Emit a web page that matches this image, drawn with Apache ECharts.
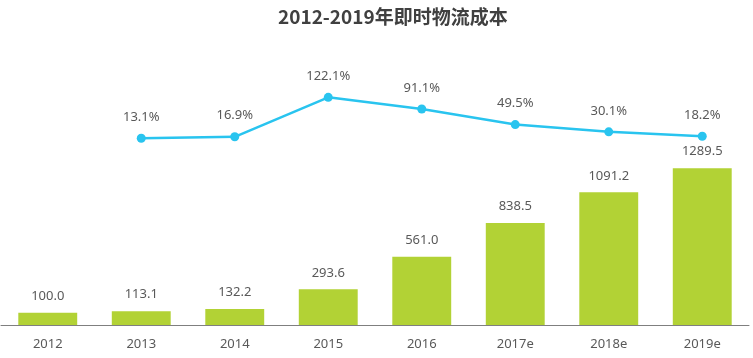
<!DOCTYPE html>
<html><head><meta charset="utf-8">
<script src="https://cdn.jsdelivr.net/npm/echarts@6/dist/echarts.min.js"></script>
<style>html,body{margin:0;padding:0;background:#fff}#c{width:753px;height:358px}</style>
</head><body><div id="c"></div>
<script>
const categories = ['2012','2013','2014','2015','2016','2017e','2018e','2019e'];
const costValues = [100.0, 113.1, 132.2, 293.6, 561.0, 838.5, 1091.2, 1289.5];
const growthValues = [null, 13.1, 16.9, 122.1, 91.1, 49.5, 30.1, 18.2];
const titleText = '2012-2019年即时物流成本';

const chart = echarts.init(document.getElementById('c'));
const font = '"Noto Sans", "Noto Sans CJK SC", sans-serif';
chart.setOption({
  animation: false,
  title: { text: titleText, left: 273, top: 2,
    textStyle: { fontSize: 19, fontWeight: 'bold', color: '#404040', fontFamily: '"Noto Sans CJK SC", sans-serif' } },
  grid: { left: 1, right: 4, top: 40, bottom: 33, containLabel: false },
  xAxis: { type: 'category', data: categories,
    axisLine: { lineStyle: { color: '#7f7f7f', width: 1 } },
    axisTick: { show: false },
    axisLabel: { color: '#595959', fontSize: 13, margin: 13, fontFamily: font } },
  yAxis: [
    { type: 'value', min: 0, max: 2344, show: false, splitLine: { show: false } },
    { type: 'value', min: -485, max: 275, show: false, splitLine: { show: false } }
  ],
  series: [
    { type: 'bar', data: costValues, barWidth: '63%', yAxisIndex: 0,
      itemStyle: { color: '#b2d235' },
      label: { show: true, position: 'top', distance: 10, color: '#595959', fontSize: 13, fontFamily: font,
        formatter: p => p.value.toFixed(1) } },
    { type: 'line', data: growthValues, yAxisIndex: 1,
      symbol: 'circle', symbolSize: 9,
      lineStyle: { color: '#29c4ef', width: 2.5 },
      itemStyle: { color: '#29c4ef' },
      label: { show: true, position: 'top', distance: 10, color: '#595959', fontSize: 13, fontFamily: font,
        formatter: p => p.value.toFixed(1) + '%' } }
  ]
});
</script></body></html>
